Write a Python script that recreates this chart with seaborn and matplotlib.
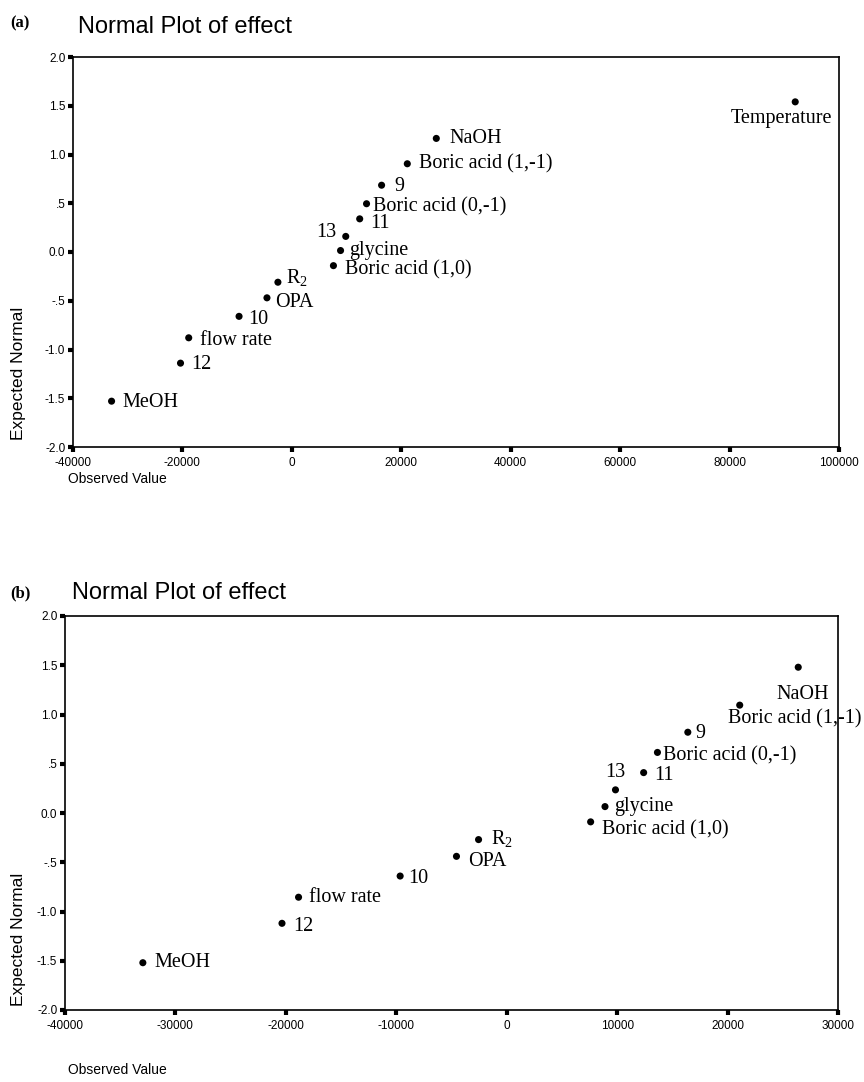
import matplotlib
matplotlib.use('Agg')
import matplotlib.pyplot as plt
import seaborn as sns
import pandas as pd

# effect names and estimated effects (observed value)
EFFECTS = ['Temperature', 'NaOH', 'Boric acid (1,-1)', '9', 'Boric acid (0,-1)', '11', '13',
           'glycine', 'Boric acid (1,0)', r'$\mathrm{R}_2$', 'OPA', '10', 'flow rate', '12', 'MeOH']
OBSERVED = [92000, 26400, 21100, 16400, 13650, 12400, 9850, 8900, 7600,
            -2550, -4550, -9650, -18850, -20350, -32950]

# expected normal scores, panel (a) all effects, panel (b) without Temperature
EXPECTED_A = [1.54, 1.165, 0.905, 0.685, 0.495, 0.34, 0.16, 0.015, -0.14,
              -0.31, -0.47, -0.66, -0.88, -1.14, -1.53]
EXPECTED_B = [1.48, 1.095, 0.82, 0.615, 0.41, 0.235, 0.065, -0.09,
              -0.27, -0.44, -0.64, -0.855, -1.12, -1.52]

XTICKS_A = [-40000, -20000, 0, 20000, 40000, 60000, 80000, 100000]
XTICKS_B = [-40000, -30000, -20000, -10000, 0, 10000, 20000, 30000]
YTICKS = [2.0, 1.5, 1.0, 0.5, 0.0, -0.5, -1.0, -1.5, -2.0]
YTICK_LABELS = ['2.0', '1.5', '1.0', '.5', '0.0', '-.5', '-1.0', '-1.5', '-2.0']

# label placement (dx px right, dy px down, ha)
LAB_A = [(-14, 17, 'center'), (13, 0, 'left'), (12, 0, 'left'), (13, 1, 'left'),
         (6, 3, 'left'), (11, 5, 'left'), (-9, -4, 'right'), (9, 0, 'left'),
         (12, 4, 'left'), (8, -4, 'left'), (8, 5, 'left'), (9, 3, 'left'),
         (11, 3, 'left'), (11, 1, 'left'), (11, 1, 'left')]
LAB_B = [(4, 27, 'center'), (-12, 14, 'left'), (8, 1, 'left'), (6, 3, 'left'),
         (11, 3, 'left'), (0, -17, 'center'), (9, 0, 'left'), (11, 8, 'left'),
         (12, 0, 'left'), (12, 5, 'left'), (8, 2, 'left'), (10, 0, 'left'),
         (11, 3, 'left'), (12, 0, 'left')]

sns.set_style('white')
plt.rcParams['font.family'] = ['Liberation Sans', 'DejaVu Sans']
plt.rcParams['text.color'] = 'black'
plt.rcParams['mathtext.fontset'] = 'custom'
plt.rcParams['mathtext.rm'] = 'Liberation Serif'

W, H = 864, 1082
fig = plt.figure(figsize=(W / 100, H / 100), dpi=100)


def px_axes(left, right, top, bottom):
    return fig.add_axes([left / W, 1 - bottom / H, (right - left) / W, (bottom - top) / H])


def draw_panel(ax, names, xs, ys, labels, xticks, xlim):
    df = pd.DataFrame({'observed': xs, 'expected': ys})
    sns.scatterplot(data=df, x='observed', y='expected', ax=ax, color='black',
                    s=26, edgecolor='none', legend=False, zorder=3)
    for name, x, y, (dx, dy, ha) in zip(names, xs, ys, labels):
        ax.annotate(name, (x, y), xytext=(dx * 0.72, -dy * 0.72), textcoords='offset points',
                    ha=ha, va='center', fontsize=14.5, family='Liberation Serif', color='black')
    ax.set_xlim(*xlim)
    ax.set_ylim(-2.0, 2.0)
    ax.set_xticks(xticks)
    ax.set_xticklabels([str(t) for t in xticks])
    ax.set_yticks(YTICKS)
    ax.set_yticklabels(YTICK_LABELS)
    ax.tick_params(bottom=True, left=True, direction='out', length=3.5, width=3,
                   color='black', labelsize=8.5, pad=2, labelcolor='black')
    ax.tick_params(axis='x', pad=4)
    ax.set_xlabel('')
    ax.set_ylabel('')
    for sp in ax.spines.values():
        sp.set_visible(True)
        sp.set_color('black')
        sp.set_linewidth(1.2)


# panel (a)
ax_a = px_axes(73, 839, 57, 447)
draw_panel(ax_a, EFFECTS, OBSERVED, EXPECTED_A, LAB_A, XTICKS_A, (-40000, 100000))
fig.text(10 / W, 1 - 27 / H, '(a)', family='Liberation Serif', fontweight='bold',
         fontsize=12, va='baseline')
fig.text(78 / W, 1 - 33 / H, 'Normal Plot of effect', fontsize=17, va='baseline')
fig.text(19 / W, 1 - 440 / H, 'Expected Normal', rotation=90, fontsize=12.5,
         ha='center', va='bottom')
fig.text(68 / W, 1 - 479 / H, 'Observed Value', fontsize=10, va='center')

# panel (b)
ax_b = px_axes(65, 838, 616, 1010)
draw_panel(ax_b, EFFECTS[1:], OBSERVED[1:], EXPECTED_B, LAB_B, XTICKS_B, (-40000, 30000))
fig.text(10 / W, 1 - 597 / H, '(b)', family='Liberation Serif', fontweight='bold',
         fontsize=12, va='baseline')
fig.text(72 / W, 1 - 599 / H, 'Normal Plot of effect', fontsize=17, va='baseline')
fig.text(19 / W, 1 - 1006 / H, 'Expected Normal', rotation=90, fontsize=12.5,
         ha='center', va='bottom')
fig.text(68 / W, 1 - 1070 / H, 'Observed Value', fontsize=10, va='center')

fig.savefig('out.png', dpi=100, facecolor='white')
